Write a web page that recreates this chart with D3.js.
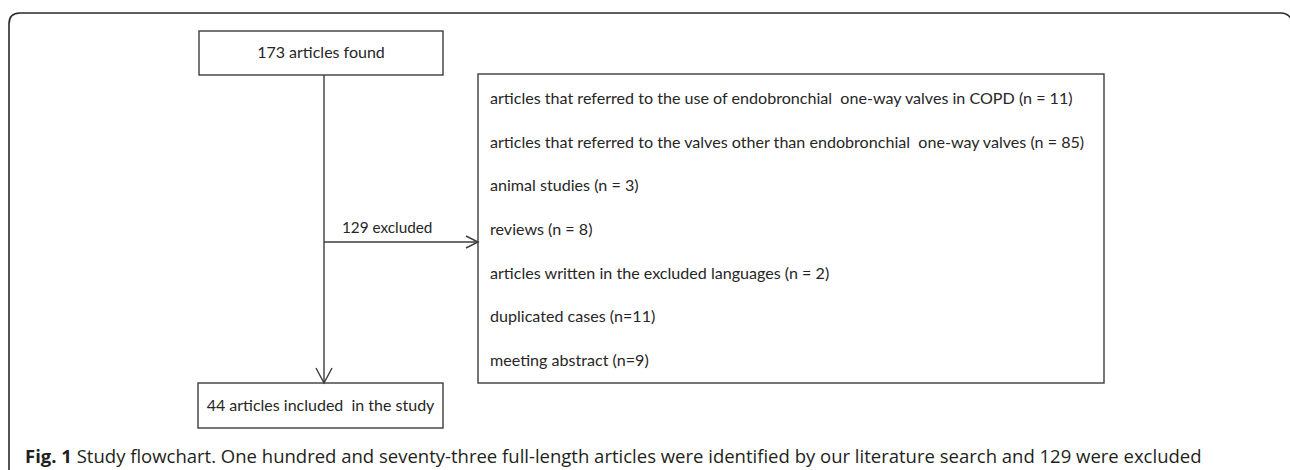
<!doctype html>
<html>
<head>
<meta charset="utf-8">
<title>Study flowchart</title>
<script src="https://cdn.jsdelivr.net/npm/d3@7"></script>
<style>
body { margin: 0; background: #fff; }
.node text, .reason { font-family: Lato, 'Open Sans', sans-serif; fill: #262626; white-space: pre; }
.caption { font-family: 'Open Sans', sans-serif; fill: #231f20; }
.box { fill: #fff; stroke: #3c3c3c; stroke-width: 1.4; }
.link { fill: none; stroke: #3c3c3c; stroke-width: 1.4; }
</style>
</head>
<body>
<script>
// flowchart counts
var foundCount = 173;
var excludedCount = 129;
var includedCount = 44;

// reasons for exclusion, with counts
var reasonLabels = [
  "articles that referred to the use of endobronchial  one-way valves in COPD",
  "articles that referred to the valves other than endobronchial  one-way valves",
  "animal studies",
  "reviews",
  "articles written in the excluded languages",
  "duplicated cases",
  "meeting abstract"
];
var reasonCounts = [11, 85, 3, 8, 2, 11, 9];
var reasonCompact = [false, false, false, false, false, true, true];

var W = 1290, H = 470;

var svg = d3.select("body").append("svg")
  .attr("width", W)
  .attr("height", H);

// outer frame: rounded top corners, open at the bottom
svg.append("path")
  .attr("d", "M9,470 L9,24 Q9,13 20,13 L1281,13 Q1288,13 1292,20")
  .attr("fill", "none")
  .attr("stroke", "#2a2a2a")
  .attr("stroke-width", 1.6);

// vertical position of each reason line inside the right box
var yReason = d3.scalePoint()
  .domain(d3.range(reasonLabels.length))
  .range([99, 361]);

// boxes
var topBox = {x: 199, y: 31, w: 244, h: 44};
var botBox = {x: 198, y: 383, w: 245, h: 45};
var sideBox = {x: 478, y: 74, w: 626, h: 309};
var spineX = 324;
var branchY = 242;

[topBox, botBox, sideBox].forEach(function(b) {
  svg.append("rect").attr("class", "box")
    .attr("x", b.x).attr("y", b.y).attr("width", b.w).attr("height", b.h);
});

// main vertical arrow
var line = d3.line();
svg.append("path").attr("class", "link")
  .attr("d", line([[spineX, topBox.y + topBox.h], [spineX, botBox.y]]));
svg.append("path").attr("class", "link")
  .attr("d", line([[spineX - 8, botBox.y - 15], [spineX, botBox.y], [spineX + 8, botBox.y - 15]]));

// branch arrow to exclusions
svg.append("path").attr("class", "link")
  .attr("d", line([[spineX, branchY], [sideBox.x, branchY]]));
svg.append("path").attr("class", "link")
  .attr("d", line([[sideBox.x - 12, branchY - 6], [sideBox.x, branchY], [sideBox.x - 12, branchY + 6]]));

var fs = 16;
var fsReason = 16.1;

var nodes = svg.append("g").attr("class", "node");
nodes.append("text")
  .attr("x", topBox.x + topBox.w / 2)
  .attr("y", topBox.y + topBox.h / 2 + 5)
  .attr("text-anchor", "middle")
  .style("font-size", fs + "px")
  .text(foundCount + " articles found");

nodes.append("text")
  .attr("x", botBox.x + botBox.w / 2)
  .attr("y", botBox.y + botBox.h / 2 + 5)
  .attr("text-anchor", "middle")
  .style("font-size", fs + "px")
  .text(includedCount + " articles included  in the study");

nodes.append("text")
  .attr("x", 342)
  .attr("y", branchY - 9)
  .style("font-size", "15.3px")
  .text(excludedCount + " excluded");

svg.append("g").selectAll("text")
  .data(reasonLabels)
  .join("text")
  .attr("class", "reason")
  .attr("x", 490)
  .attr("y", function(d, i) { return yReason(i) + 5; })
  .style("font-size", fsReason + "px")
  .text(function(d, i) {
    return d + (reasonCompact[i] ? " (n=" + reasonCounts[i] + ")" : " (n = " + reasonCounts[i] + ")");
  });

// caption
var cap = svg.append("text")
  .attr("class", "caption")
  .attr("x", 25)
  .attr("y", 463)
  .style("font-size", "18.5px");
cap.append("tspan").style("font-weight", "bold").text("Fig. 1");
cap.append("tspan").text(" Study flowchart. One hundred and seventy-three full-length articles were identified by our literature search and " + excludedCount + " were excluded");
</script>
</body>
</html>
